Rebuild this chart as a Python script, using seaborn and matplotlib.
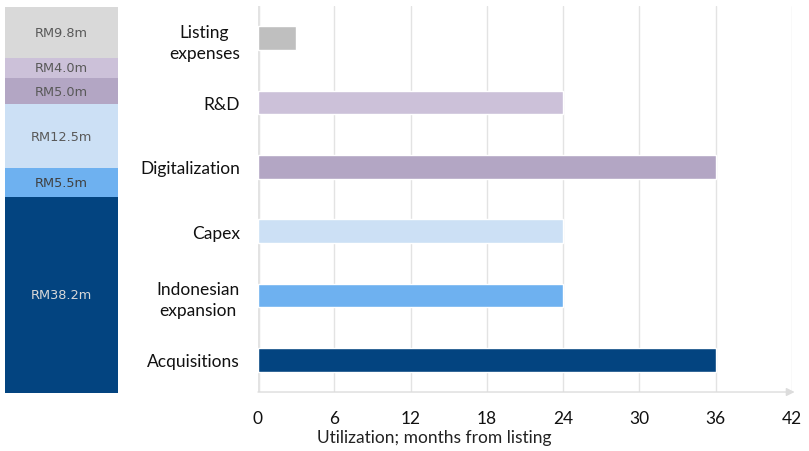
import matplotlib
matplotlib.use('Agg')
import matplotlib.pyplot as plt
import seaborn as sns
import pandas as pd

sns.set_style('white')
plt.rcParams['font.family'] = ['Lato', 'DejaVu Sans']

# use of proceeds, top to bottom
uses = ['Listing\nexpenses', 'R&D', 'Digitalization', 'Capex',
        'Indonesian\nexpansion', 'Acquisitions']
months = [3, 24, 36, 24, 24, 36]
amounts = [9.8, 4.0, 5.0, 12.5, 5.5, 38.2]
bar_colors = ['#BFBFBF', '#CCC1D9', '#B3A6C4', '#CCE0F5', '#6EB1F0', '#034480']
stack_colors = ['#D9D9D9', '#CCC1D9', '#B3A6C4', '#CCE0F5', '#6EB1F0', '#034480']
stack_text = ['#595959', '#595959', '#595959', '#595959', '#404040', '#D9D9D9']
xticks = [0, 6, 12, 18, 24, 30, 36, 42]

fig = plt.figure(figsize=(8.09, 4.52), dpi=100)

# left: stacked amounts
axl = fig.add_axes([0.0062, 0.128, 0.1397, 0.854])
total = sum(amounts)
bottom = total
for amt, col, tc in zip(amounts, stack_colors, stack_text):
    bottom -= amt
    axl.bar(0, amt, bottom=bottom, color=col, width=1.0, linewidth=0)
    axl.text(0, bottom + amt / 2, f'RM{amt:.1f}m', ha='center', va='center',
             fontsize=9.3, color=tc, family='DejaVu Sans')
axl.set_xlim(-0.5, 0.5)
axl.set_ylim(0, total)
axl.axis('off')

# right: months of utilisation
df = pd.DataFrame({'use': uses, 'months': months})
ax = fig.add_axes([0.3189, 0.1305, 0.66, 0.854])
sns.barplot(data=df, x='months', y='use', hue='use', palette=bar_colors,
            legend=False, width=0.37, ax=ax, saturation=1, zorder=3)
ax.set_xlim(0, 42)
ax.set_ylim(5.5, -0.5)
ax.set_xticks(xticks)
ax.grid(axis='x', color='#E3E3E3', linewidth=1, zorder=0)
for s in ax.spines.values():
    s.set_visible(False)
ax.axvline(0, color='#E3E3E3', linewidth=2.5, zorder=1)
ax.annotate('', xy=(1.005, 0), xytext=(0, 0), xycoords='axes fraction',
            arrowprops=dict(arrowstyle='-|>', color='#DCDCDC', lw=1,
                            mutation_scale=12, shrinkA=0, shrinkB=0))
ax.tick_params(axis='x', length=0, pad=13, labelsize=12.5, colors='#111111')
ax.tick_params(axis='y', length=0, pad=13, labelsize=12.5, colors='#111111')
for lab in ax.get_yticklabels():
    lab.set_multialignment('center')
    lab.set_linespacing(1.4)
ax.set_ylabel('')
ax.set_xlabel('Utilization; months from listing', fontsize=12.5,
              color='#222222', labelpad=1)
ax.xaxis.set_label_coords(0.331, -0.095)

fig.savefig('out.png', dpi=100)
